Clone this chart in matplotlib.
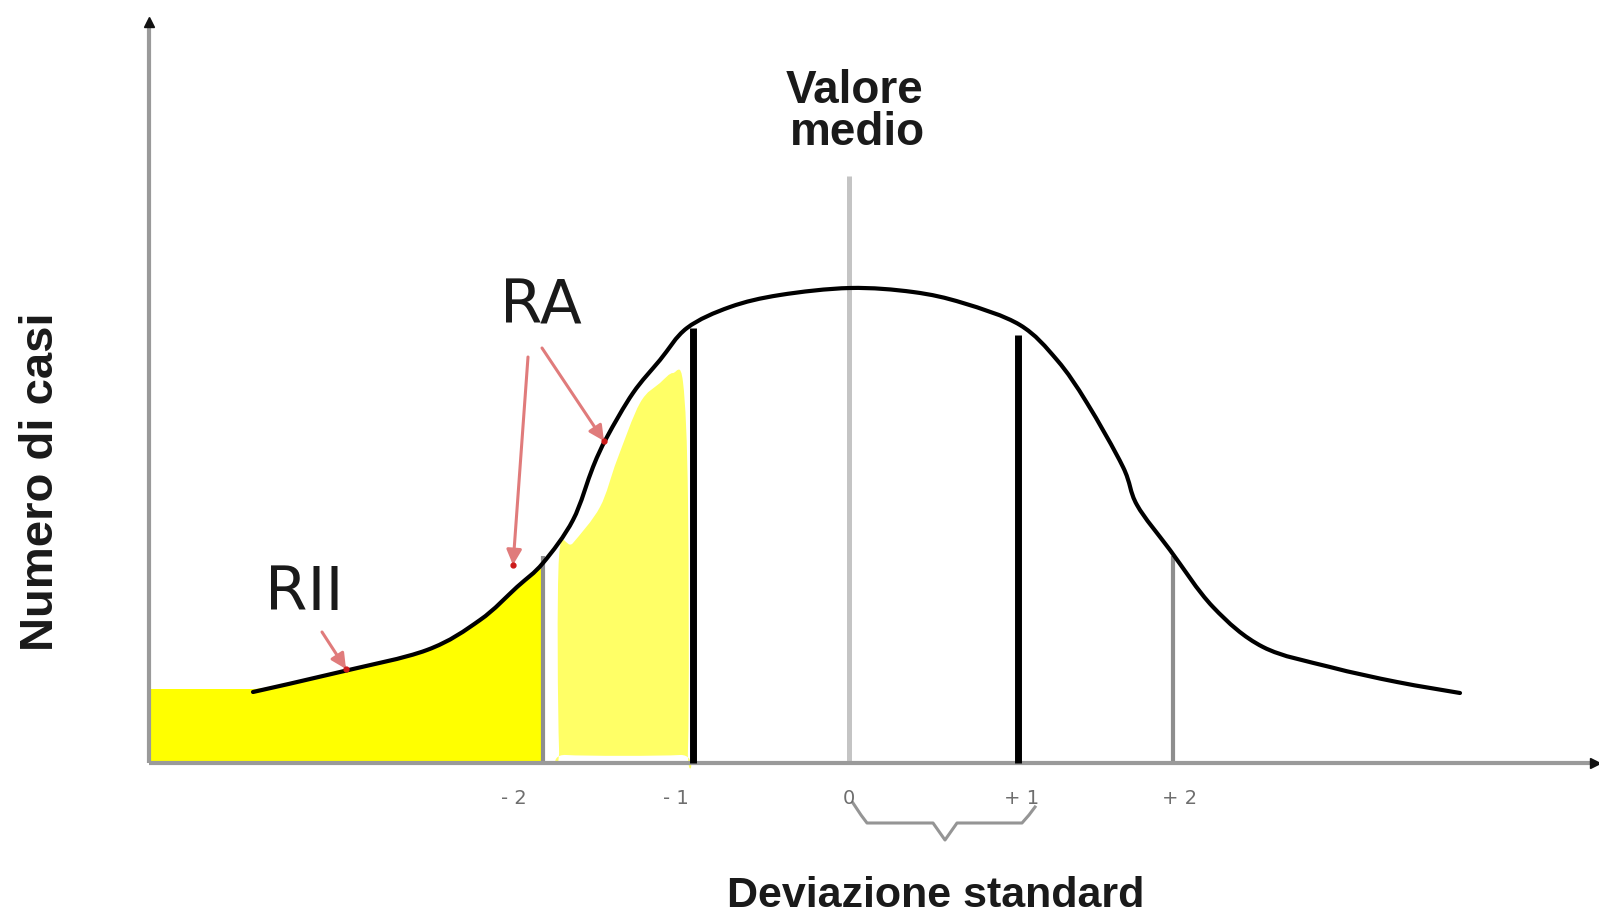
import matplotlib
matplotlib.use("Agg")
import matplotlib.pyplot as plt
from matplotlib.patches import PathPatch
from matplotlib.path import Path

# ---------------- data (figure-pixel units) ----------------
curve_x = [253, 340, 427, 480, 517, 543, 573, 593, 607, 633, 660, 687, 730, 780, 850,
           913, 963, 1020, 1057, 1087, 1123, 1137, 1170, 1213, 1263, 1330, 1397, 1460]
curve_y = [692, 672, 650, 620, 587, 563, 520, 467, 437, 393, 360, 328, 307, 295, 288,
           292, 303, 325, 360, 403, 467, 505, 550, 607, 647, 667, 682, 693]

# bright yellow region (RII): flat left part, then follows the curve up to -2
rii_left_x = [150, 253]
rii_left_y = [689, 689]
rii_end_x = 543

# pale yellow region (RA), outline points
ra_x = [559, 559, 573, 600, 617, 640, 660, 673, 683, 688, 688, 680, 566]
ra_y = [748, 557, 543, 507, 460, 403, 383, 373, 382, 500, 748, 755, 755]

# vertical reference lines: (x, top y, kind)
sd_lines_x = [543, 693, 849, 1018, 1173]
sd_lines_top = [556, 328, 176, 335, 556]
sd_lines_kind = ["thin", "thick", "mean", "thick", "thin"]

tick_labels = ["- 2", "- 1", "0", "+ 1", "+ 2"]
tick_label_x = [514, 676, 849, 1022, 1180]

# brace between 0 and +1
brace_x = [853, 861, 867, 933, 945, 957, 1022, 1029, 1035]
brace_y = [803, 815, 823, 823, 840, 823, 823, 815, 807]

# red annotation arrows: (start, end)
arrows = [((322, 632), (346, 669)),
          ((528, 357), (513, 565)),
          ((542, 348), (604, 441))]

axis_origin = (149, 763)
axis_top_y = 22
axis_right_x = 1597


def smooth_path(xs, ys, closed=False):
    """Catmull-Rom through the given points, expressed as cubic Bezier path segments."""
    pts = list(zip(xs, ys))
    n = len(pts)
    verts = [pts[0]]
    codes = [Path.MOVETO]
    segs = n if closed else n - 1
    for i in range(segs):
        p0 = pts[(i - 1) % n] if (closed or i > 0) else pts[i]
        p1 = pts[i]
        p2 = pts[(i + 1) % n]
        p3 = pts[(i + 2) % n] if (closed or i + 2 < n) else p2
        c1 = (p1[0] + (p2[0] - p0[0]) / 6.0, p1[1] + (p2[1] - p0[1]) / 6.0)
        c2 = (p2[0] - (p3[0] - p1[0]) / 6.0, p2[1] - (p3[1] - p1[1]) / 6.0)
        verts += [c1, c2, p2]
        codes += [Path.CURVE4] * 3
    if closed:
        verts.append(pts[0])
        codes.append(Path.CLOSEPOLY)
    return Path(verts, codes)


# ---------------- figure ----------------
W, H = 1599, 917
fig = plt.figure(figsize=(W / 100, H / 100), dpi=100)
ax = fig.add_axes([0, 0, 1, 1])
ax.set_xlim(0, W)
ax.set_ylim(H, 0)
ax.axis("off")

# yellow RII area: flat left part + smooth part along the curve
cx = [x for x in curve_x if x <= rii_end_x]
cy = [y for x, y in zip(curve_x, curve_y) if x <= rii_end_x]
top = smooth_path(cx, cy)
verts = [(rii_left_x[0], axis_origin[1]), (rii_left_x[0], rii_left_y[0]), (rii_left_x[1], rii_left_y[1])]
codes = [Path.MOVETO, Path.LINETO, Path.LINETO]
verts += list(top.vertices[1:])
codes += list(top.codes[1:])
verts += [(rii_end_x, axis_origin[1]), (rii_left_x[0], axis_origin[1])]
codes += [Path.LINETO, Path.CLOSEPOLY]
ax.add_patch(PathPatch(Path(verts, codes), facecolor="#ffff00", edgecolor="none", zorder=1))

# pale yellow RA area (smoothed)
ax.add_patch(PathPatch(smooth_path(ra_x, ra_y, closed=True), facecolor="#ffff66",
                       edgecolor="none", zorder=1))

# vertical lines
for x, topy, kind in zip(sd_lines_x, sd_lines_top, sd_lines_kind):
    if kind == "thick":
        ax.plot([x, x], [axis_origin[1], topy], color="#000000", lw=5.0,
                solid_capstyle="butt", zorder=3)
    elif kind == "mean":
        ax.plot([x, x], [axis_origin[1], topy], color="#c4c4c4", lw=3.6,
                solid_capstyle="butt", zorder=2)
    else:
        ax.plot([x, x], [axis_origin[1], topy], color="#8e8e8e", lw=3.0,
                solid_capstyle="butt", zorder=2)

# axes lines
ax.plot([axis_origin[0], axis_origin[0]], [axis_origin[1], axis_top_y],
        color="#9a9a9a", lw=3.0, solid_capstyle="butt", zorder=2)
ax.plot([axis_origin[0], axis_right_x], [axis_origin[1], axis_origin[1]],
        color="#9a9a9a", lw=3.0, solid_capstyle="butt", zorder=2)
ax.plot([axis_origin[0]], [axis_top_y], marker="^", color="#111111", markersize=7, zorder=4)
ax.plot([axis_right_x - 2], [axis_origin[1]], marker=">", color="#111111", markersize=7, zorder=4)

# main curve (smooth)
ax.add_patch(PathPatch(smooth_path(curve_x, curve_y), facecolor="none", edgecolor="#000000",
                       lw=3.0, capstyle="round", joinstyle="round", zorder=4))

# red arrows
for (sx, sy), (ex, ey) in arrows:
    ax.annotate("", xy=(ex, ey), xytext=(sx, sy),
                arrowprops=dict(arrowstyle="-|>,head_length=0.9,head_width=0.45",
                                color="#e07b7b", lw=2.2, shrinkA=0, shrinkB=0),
                zorder=5)
    ax.plot([ex], [ey], marker="o", color="#cc1a1a", markersize=3.5, zorder=6)

# brace
ax.plot(brace_x, brace_y, color="#959595", lw=2.2, solid_joinstyle="round", zorder=2)

# tick labels
for lab, x in zip(tick_labels, tick_label_x):
    ax.text(x, 799, lab, ha="center", va="center", fontsize=14, color="#6e6e6e",
            family="DejaVu Sans")

# texts
bold_font = dict(family="Liberation Sans", weight="bold", color="#1a1a1a")
ax.text(855, 103, "Valore", ha="center", va="baseline", fontsize=33, **bold_font)
ax.text(857, 145, "medio", ha="center", va="baseline", fontsize=33, **bold_font)
ax.text(936, 907, "Deviazione standard", ha="center", va="baseline", fontsize=31, **bold_font)
ax.text(53, 482, "Numero di casi", ha="center", va="baseline", rotation=90,
        rotation_mode="anchor", fontsize=34, **bold_font)

ax.text(541, 323, "RA", ha="center", va="baseline", fontsize=44, color="#1a1a1a",
        family="DejaVu Sans")
ax.text(304, 610, "RII", ha="center", va="baseline", fontsize=44, color="#1a1a1a",
        family="DejaVu Sans")

fig.savefig("out.png", dpi=100, facecolor="white")
